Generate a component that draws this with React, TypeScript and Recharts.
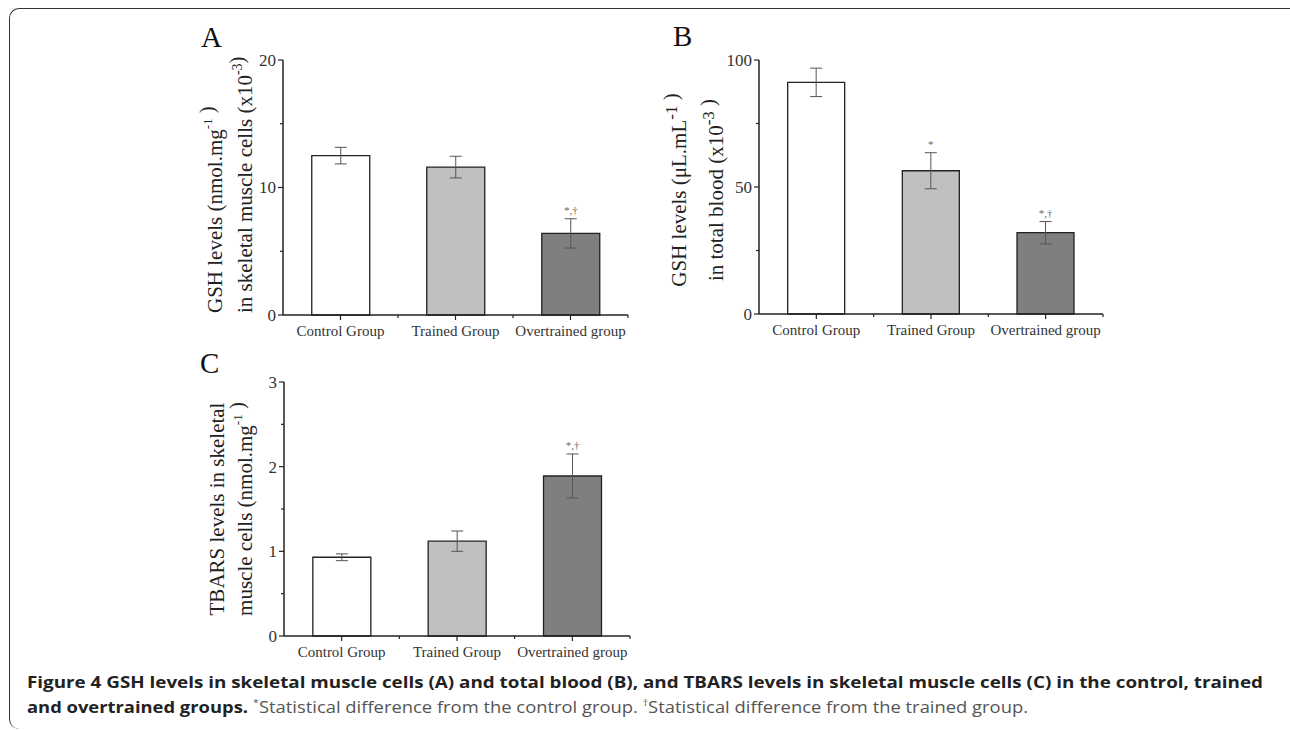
import React from 'react';
import { BarChart, Bar, XAxis, YAxis, Cell, ErrorBar, LabelList } from 'recharts';

// groups on the x axis, same for all three panels
const groups = ['Control Group', 'Trained Group', 'Overtrained group'];
const barFills = ['#ffffff', '#c0c0c0', '#7f7f7f'];

// A: GSH in skeletal muscle cells (x10^-3 nmol/mg)
const gshMuscle = [12.5, 11.6, 6.4];
const gshMuscleErr = [0.65, 0.85, 1.15];
const gshMuscleSig = ['', '', '*,†'];
const ticksA = [0, 5, 10, 15, 20];
const majorsA = [0, 10, 20];

// B: GSH in total blood (x10^-3 uL/mL)
const gshBlood = [91.2, 56.4, 32.0];
const gshBloodErr = [5.6, 7.1, 4.4];
const gshBloodSig = ['', '*', '*,†'];
const ticksB = [0, 25, 50, 75, 100];
const majorsB = [0, 50, 100];

// C: TBARS in skeletal muscle cells (nmol/mg)
const tbars = [0.93, 1.12, 1.89];
const tbarsErr = [0.04, 0.12, 0.26];
const tbarsSig = ['', '', '*,†'];
const ticksC = [0, 0.5, 1, 1.5, 2, 2.5, 3];
const majorsC = [0, 1, 2, 3];

const SERIF = '"Liberation Serif", "Times New Roman", serif';
const SANS = '"Open Sans", "Noto Sans", sans-serif';
const YW = 100;

type Seg = { t: string; sup?: boolean; supSize?: number };
type TitleLine = { dx: number; segs: Seg[] };

const buildRows = (vals: number[], errs: number[], sigs: string[]) =>
  groups.map((g, i) => ({ name: g, value: vals[i], err: errs[i], sig: sigs[i] }));

const YTick = (props: any) => {
  const { x, y, payload, majors } = props;
  const major = majors.includes(payload.value);
  return (
    <g>
      <line x1={x - (major ? 5 : 3)} x2={x} y1={y} y2={y} stroke="#222" strokeWidth={1.2} />
      {major && (
        <text x={x - 7} y={y} dy="0.35em" textAnchor="end" fontFamily={SERIF} fontSize={17} fill="#333">
          {payload.value}
        </text>
      )}
    </g>
  );
};

const XTick = (props: any) => {
  const { x, y, payload } = props;
  const half = payload.offset || 57.5;
  return (
    <g>
      <line x1={x} x2={x} y1={y} y2={y + 5} stroke="#222" strokeWidth={1.2} />
      <line x1={x + half} x2={x + half} y1={y} y2={y + 3} stroke="#222" strokeWidth={1.2} />
      <text x={x} y={y + 21} textAnchor="middle" fontFamily={SERIF} fontSize={15} fill="#333">
        {payload.value}
      </text>
    </g>
  );
};

const AxisTitle = (props: any) => {
  const { viewBox, lines, anchor, shift } = props;
  const { x, y, height } = viewBox;
  const cy = anchor === 'start' ? y + height - 2 : y + height / 2 + (shift || 0);
  return (
    <g>
      {lines.map((ln: TitleLine, i: number) => {
        const cx = x + ln.dx;
        return (
          <text
            key={i}
            x={cx}
            y={cy}
            transform={`rotate(-90, ${cx}, ${cy})`}
            textAnchor={anchor}
            dominantBaseline="central"
            fontFamily={SERIF}
            fontSize={21}
            fill="#222"
          >
            {ln.segs.map((s, j) => {
              if (!s.sup) return <tspan key={j}>{s.t}</tspan>;
              return (
                <tspan key={j} dy={-8} fontSize={s.supSize || 13}>
                  {s.t}
                </tspan>
              );
            })}
          </text>
        );
      })}
    </g>
  );
};

const SigLabel = (props: any) => {
  const { x, y, width, height, index, rows } = props;
  const row = rows[index];
  if (!row || !row.sig) return null;
  const px = height / row.value;
  const top = y - row.err * px;
  return (
    <text x={x + width / 2} y={top - 5} textAnchor="middle" fontFamily={SERIF} fontSize={11} fill="#666">
      {row.sig}
    </text>
  );
};

type PanelProps = {
  plot: [number, number, number, number]; // x0, x1, y0, y1 of the plot area on the page
  rows: any[];
  ticks: number[];
  majors: number[];
  title: TitleLine[];
  anchor: 'start' | 'middle';
  shift?: number;
};

const Panel = ({ plot, rows, ticks, majors, title, anchor, shift }: PanelProps) => {
  const [x0, x1, y0, y1] = plot;
  const left = x0 - YW;
  const top = y0 - 10;
  const width = x1 + 10 - left;
  const height = y1 + 40 - top;
  return (
    <div style={{ position: 'absolute', left, top, width, height }}>
      <BarChart
        width={width}
        height={height}
        data={rows}
        margin={{ top: 10, right: 10, bottom: 10, left: 0 }}
        barCategoryGap="25%"
      >
        <XAxis
          dataKey="name"
          height={30}
          tickLine={false}
          tickSize={0}
          tickMargin={0}
          axisLine={{ stroke: '#222', strokeWidth: 1.5 }}
          tick={<XTick />}
          interval={0}
        />
        <YAxis
          width={YW}
          domain={[ticks[0], ticks[ticks.length - 1]]}
          ticks={ticks}
          interval={0}
          tickLine={false}
          tickSize={0}
          tickMargin={0}
          axisLine={{ stroke: '#222', strokeWidth: 1.5 }}
          tick={<YTick majors={majors} />}
          label={<AxisTitle lines={title} anchor={anchor} shift={shift} />}
        />
        <Bar dataKey="value" stroke="#222" strokeWidth={1.3} isAnimationActive={false}>
          {rows.map((r, i) => (
            <Cell key={r.name} fill={barFills[i]} />
          ))}
          <ErrorBar dataKey="err" width={6} stroke="#555" strokeWidth={1} direction="y" isAnimationActive={false} />
          <LabelList dataKey="sig" content={(p: any) => <SigLabel {...p} rows={rows} />} />
        </Bar>
      </BarChart>
    </div>
  );
};

const titleA: TitleLine[] = [
  { dx: 31.7, segs: [{ t: 'GSH levels (nmol.mg' }, { t: '-1', sup: true }, { t: ' )' }] },
  { dx: 61.7, segs: [{ t: 'in skeletal muscle cells (x10' }, { t: '-3', sup: true, supSize: 14 }, { t: ')' }] },
];
const titleB: TitleLine[] = [
  { dx: 20, segs: [{ t: 'GSH levels (μL.mL' }, { t: '-1', sup: true, supSize: 17 }, { t: ' )' }] },
  { dx: 57, segs: [{ t: 'in total blood (x10' }, { t: '-3', sup: true, supSize: 17 }, { t: ' )' }] },
];
const titleC: TitleLine[] = [
  { dx: 33, segs: [{ t: 'TBARS levels in skeletal' }] },
  { dx: 61, segs: [{ t: 'muscle cells (nmol.mg' }, { t: '-1', sup: true }, { t: ' )' }] },
];

export default function App() {
  return (
    <div
      style={{
        position: 'absolute',
        left: 0,
        top: 0,
        width: 1290,
        height: 730,
        background: '#fff',
        overflow: 'hidden',
      }}
    >
      <div
        style={{
          position: 'absolute',
          left: 9,
          top: 8,
          width: 1290,
          height: 720,
          borderLeft: '1.5px solid #333',
          borderTop: '1.5px solid #333',
          borderTopLeftRadius: 10,
          borderBottomLeftRadius: 10,
        }}
      />
      <Panel
        plot={[283, 628, 60, 315]}
        rows={buildRows(gshMuscle, gshMuscleErr, gshMuscleSig)}
        ticks={ticksA}
        majors={majorsA}
        title={titleA}
        anchor="start"
      />
      <Panel
        plot={[759, 1103, 60, 314]}
        rows={buildRows(gshBlood, gshBloodErr, gshBloodSig)}
        ticks={ticksB}
        majors={majorsB}
        title={titleB}
        anchor="middle"
        shift={3}
      />
      <Panel
        plot={[284, 630, 382, 636]}
        rows={buildRows(tbars, tbarsErr, tbarsSig)}
        ticks={ticksC}
        majors={majorsC}
        title={titleC}
        anchor="middle"
      />
      <svg
        width={1290}
        height={730}
        style={{ position: 'absolute', left: 0, top: 0, pointerEvents: 'none' }}
      >
        <text x={201} y={47} fontFamily={SERIF} fontSize={29} fill="#111">A</text>
        <text x={673} y={46} fontFamily={SERIF} fontSize={29} fill="#111">B</text>
        <text x={200} y={373} fontFamily={SERIF} fontSize={29} fill="#111">C</text>
        <text
          x={27}
          y={688}
          fontFamily={SANS}
          fontWeight="bold"
          fontSize={15.5}
          fill="#222"
          textLength={1236}
          lengthAdjust="spacingAndGlyphs"
        >
          Figure 4 GSH levels in skeletal muscle cells (A) and total blood (B), and TBARS levels in skeletal muscle cells (C) in the control, trained
        </text>
        <text
          x={27}
          y={713}
          fontFamily={SANS}
          fontWeight="bold"
          fontSize={15.5}
          fill="#222"
          textLength={221}
          lengthAdjust="spacingAndGlyphs"
        >
          and overtrained groups.
        </text>
        <text
          x={253}
          y={713}
          fontFamily={SANS}
          fontSize={15.5}
          fill="#555"
          textLength={775}
          lengthAdjust="spacingAndGlyphs"
        >
          <tspan fontSize={9} dy={-7}>*</tspan>
          <tspan dy={7}>Statistical difference from the control group. </tspan>
          <tspan fontSize={9} dy={-7}>†</tspan>
          <tspan dy={7}>Statistical difference from the trained group.</tspan>
        </text>
      </svg>
    </div>
  );
}
